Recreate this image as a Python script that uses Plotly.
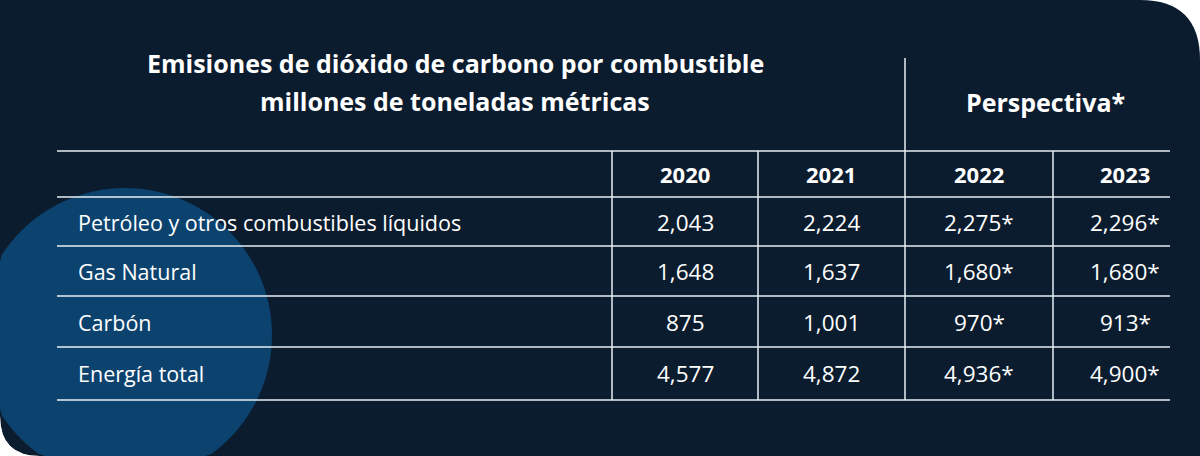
import plotly.graph_objects as go
import math

title_lines = ["Emisiones de dióxido de carbono por combustible", "millones de toneladas métricas"]
perspective = "Perspectiva*"
years = ["2020", "2021", "2022", "2023"]
rows = ["Petróleo y otros combustibles líquidos", "Gas Natural", "Carbón", "Energía total"]
v2020 = ["2,043", "1,648", "875", "4,577"]
v2021 = ["2,224", "1,637", "1,001", "4,872"]
v2022 = ["2,275*", "1,680*", "970*", "4,936*"]
v2023 = ["2,296*", "1,680*", "913*", "4,900*"]

W, H = 1200, 456
BG = "#0b1c2e"
fig = go.Figure()
shapes = []
shapes.append(dict(type="path", xref="x", yref="y",
    path=f"M0,0 L1140,0 Q1200,0 1200,60 L1200,{H} L40,{H} Q0,{H} 0,{H-40} Z",
    fillcolor=BG, line=dict(width=0), layer="below"))
cx, cy, r = 125, 335, 147
pts = []
for i in range(0, 361, 3):
    a = math.radians(i)
    x = max(cx + r*math.cos(a), 0)
    y = min(cy + r*math.sin(a), H)
    pts.append((x, y))
path = "M" + " L".join(f"{x:.1f},{y:.1f}" for x, y in pts) + " Z"
shapes.append(dict(type="path", xref="x", yref="y", path=path,
    fillcolor="#0c426e", line=dict(width=0), layer="below"))
shapes.append(dict(type="path", xref="x", yref="y",
    path=f"M0,{H-40} Q0,{H} 40,{H} L0,{H} Z", fillcolor="white", line=dict(width=0), layer="below"))

lc = "#e8eef3"
for y in [151, 197, 246, 296, 347, 400]:
    shapes.append(dict(type="line", xref="x", yref="y", x0=57, x1=1170, y0=y, y1=y, line=dict(color=lc, width=1.5)))
for x, y0 in [(612, 151), (758, 151), (905, 58), (1053, 151)]:
    shapes.append(dict(type="line", xref="x", yref="y", x0=x, x1=x, y0=y0, y1=400, line=dict(color=lc, width=1.5)))

ann = []
F = "Open Sans"
def t(x, y, s, size, bold=False, xa="center"):
    ann.append(dict(x=x, y=y, xref="x", yref="y", text=f"<b>{s}</b>" if bold else s, showarrow=False,
        xanchor=xa, yanchor="middle", font=dict(family=F, size=size, color="white")))

t(455, 63, title_lines[0], 25, True)
t(455, 101, title_lines[1], 25, True)
t(1045, 102, perspective, 25, True)
xs = [685, 831, 979, 1125]
for x, yv in zip(xs, years):
    t(x, 174, yv, 22, True)
ys = [222, 271, 322, 373]
for i, y in enumerate(ys):
    t(76, y, rows[i], 21.5, False, "left")
    for x, col in zip(xs, [v2020, v2021, v2022, v2023]):
        t(x, y, col[i], 22.5)

fig.update_layout(width=W, height=H, margin=dict(l=0, r=0, t=0, b=0),
    paper_bgcolor="white", plot_bgcolor="white", shapes=shapes, annotations=ann,
    xaxis=dict(range=[0, W], visible=False, fixedrange=True),
    yaxis=dict(range=[H, 0], visible=False, fixedrange=True), showlegend=False)
fig.write_html("out.html", config={"displayModeBar": False})
with open("out.html", encoding="utf-8") as f:
    html = f.read()
html = html.replace("<head>", "<head><style>html,body{margin:0;padding:0;overflow:hidden;}</style>", 1)
with open("out.html", "w", encoding="utf-8") as f:
    f.write(html)
